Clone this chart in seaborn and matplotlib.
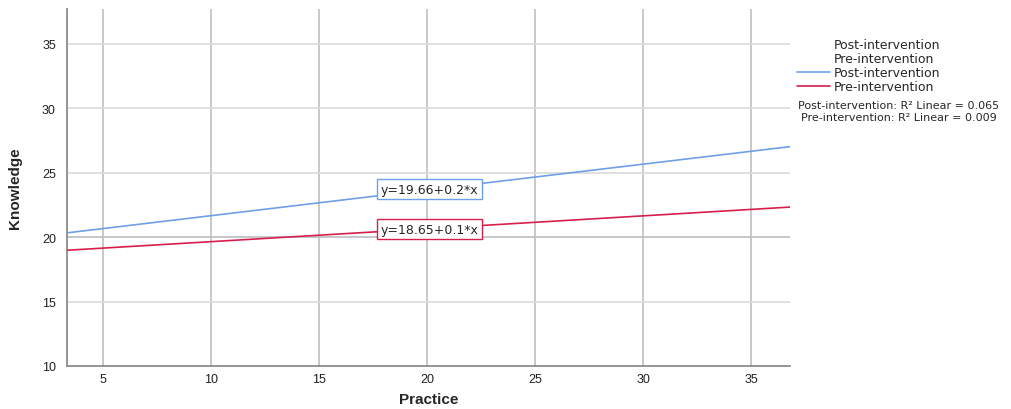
"""
Knowledge vs Practice: линии регрессии до и после вмешательства.
"""
import matplotlib.pyplot as plt
from matplotlib.lines import Line2D
import pandas as pd
import seaborn as sns

sns.set_style("white")
plt.rcParams['font.family'] = ['Liberation Sans', 'DejaVu Sans']

# концы линий регрессии
x_ends = [3.33, 36.8]
post_ends = [20.33, 27.02]
pre_ends = [18.98, 22.33]
groups = ['Post-intervention', 'Pre-intervention']
equations = ['y=19.66+0.2*x', 'y=18.65+0.1*x']
r2_values = [0.065, 0.009]
x_ticks = [5, 10, 15, 20, 25, 30, 35]
y_ticks = [10, 15, 20, 25, 30, 35]

BLUE = '#6f9fe6'
RED = '#d81f4b'
WIDE = ['DejaVu Sans']

df = pd.DataFrame({
    'Practice': x_ends * 2,
    'Knowledge': post_ends + pre_ends,
    'group': [groups[0]] * 2 + [groups[1]] * 2,
})

fig = plt.figure(figsize=(10.12, 4.10), dpi=100)
ax = fig.add_axes([0.0662, 0.1049, 0.7144, 0.8707])

ax.set_xlim(3.33, 36.8)
ax.set_ylim(10, 37.7)
ax.set_xticks(x_ticks)
ax.set_yticks(y_ticks)

# сетка
for xt in x_ticks:
    ax.axvline(xt, color='#c4c4c4', linewidth=1.3, zorder=0)
for yt in y_ticks[1:]:
    ax.axhline(yt, color='#bdbdbd' if yt == 20 else '#dadada', linewidth=1.2, zorder=0)

sns.lineplot(data=df, x='Practice', y='Knowledge', hue='group',
             palette={groups[0]: BLUE, groups[1]: RED}, linewidth=1.2,
             legend=False, ax=ax, zorder=3)

# подписи уравнений
box = dict(boxstyle='square,pad=0.3', facecolor='white', linewidth=1)
ax.text(17.85, 23.72, equations[0], fontsize=9, va='center', ha='left', zorder=5,
        family=WIDE, bbox=dict(box, edgecolor=BLUE))
ax.text(17.85, 20.62, equations[1], fontsize=9, va='center', ha='left', zorder=5,
        family=WIDE, bbox=dict(box, edgecolor=RED))

for side in ['top', 'right']:
    ax.spines[side].set_visible(False)
for side in ['left', 'bottom']:
    ax.spines[side].set_color('#8c8c8c')
    ax.spines[side].set_linewidth(1.3)

ax.tick_params(axis='both', length=0, labelsize=9, colors='#222222')
ax.tick_params(axis='y', pad=8)
ax.tick_params(axis='x', pad=5)

ax.set_xlabel('Practice', fontsize=11, fontweight='bold', labelpad=5)
ax.set_ylabel('Knowledge', fontsize=11, fontweight='bold', labelpad=14)

# легенда
handles = [
    Line2D([], [], color='none'),
    Line2D([], [], color='none'),
    Line2D([], [], color=BLUE, linewidth=1.2),
    Line2D([], [], color=RED, linewidth=1.2),
]
labels = groups + groups
fig.legend(handles, labels, loc='upper left', bbox_to_anchor=(0.783, 0.917),
           frameon=False, prop={'family': WIDE, 'size': 9}, handlelength=2.6,
           handletextpad=0.3, labelspacing=0.08, borderaxespad=0)

fig.text(0.888, 0.742, f'{groups[0]}: R² Linear = {r2_values[0]}', fontsize=8,
         family=WIDE, ha='center', va='center')
fig.text(0.888, 0.712, f'{groups[1]}: R² Linear = {r2_values[1]}', fontsize=8,
         family=WIDE, ha='center', va='center')

plt.savefig('out.png', dpi=100, facecolor='white')
